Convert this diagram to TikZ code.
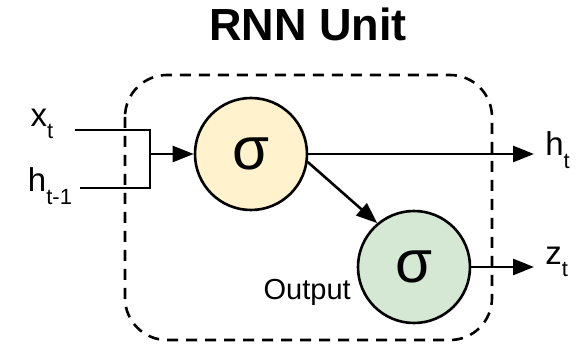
\documentclass[tikz,border=0pt]{standalone}
\usepackage{fontspec}
\setmainfont{Liberation Sans}
\usetikzlibrary{arrows.meta,positioning}
\definecolor{cellyellow}{RGB}{255,242,204}
\definecolor{cellgreen}{RGB}{213,232,212}
\newcommand\lowsub[1]{\raisebox{-0.38em}{\fontsize{22}{22}\selectfont #1}}

\begin{document}
\begin{tikzpicture}[x=1pt, y=-1pt, line width=2.6pt, >={Triangle[length=21pt,width=16pt]}]
\useasboundingbox (0,0) rectangle (582,358);

% Styles
\tikzset{
  unit/.style={circle, draw, line width=2.6pt, minimum size=112pt, inner sep=0pt, font=\fontsize{60}{60}\selectfont},
  lbl/.style={font=\fontsize{33}{33}\selectfont, inner sep=0pt}
}

% Title
\node [font=\fontsize{45}{45}\selectfont\bfseries] (title) at (308, 24) {RNN Unit};

% Unit boundary
\draw [dash pattern=on 11pt off 8pt, rounded corners=42pt] (125, 75) rectangle (492, 340);

% Cells
\node [unit, fill=cellyellow] (hidden) at (251, 154) {σ};
\node [unit, fill=cellgreen] (output) at (414, 267) {σ};
\node [font=\fontsize{29}{29}\selectfont, anchor=east, inner sep=0pt] (outlbl) at (352, 292) {Output};

% Inputs
\node [lbl] (x) at (42, 124) {x\lowsub{t}};
\node [lbl] (hprev) at (50, 186) {h\lowsub{t-1}};
\coordinate (xin) at (75, 130);
\coordinate (hin) at (80, 188);
\coordinate (join) at (150, 154);
\draw (xin) -- (150, 130) -- (150, 188) -- (hin);
\draw [->] (join) -- (hidden);

% Outputs
\node [lbl, anchor=west] (h) at (544, 150) {h\lowsub{t}};
\node [lbl, anchor=west] (z) at (544, 262) {z\lowsub{t}};
\coordinate (hout) at (534, 154);
\coordinate (zout) at (534, 267);
\draw [->] (hidden.east) -- (hout);
\draw [->] (hidden.-8) -- (output.130);
\draw [->] (output.east) -- (zout);
\end{tikzpicture}
\end{document}
